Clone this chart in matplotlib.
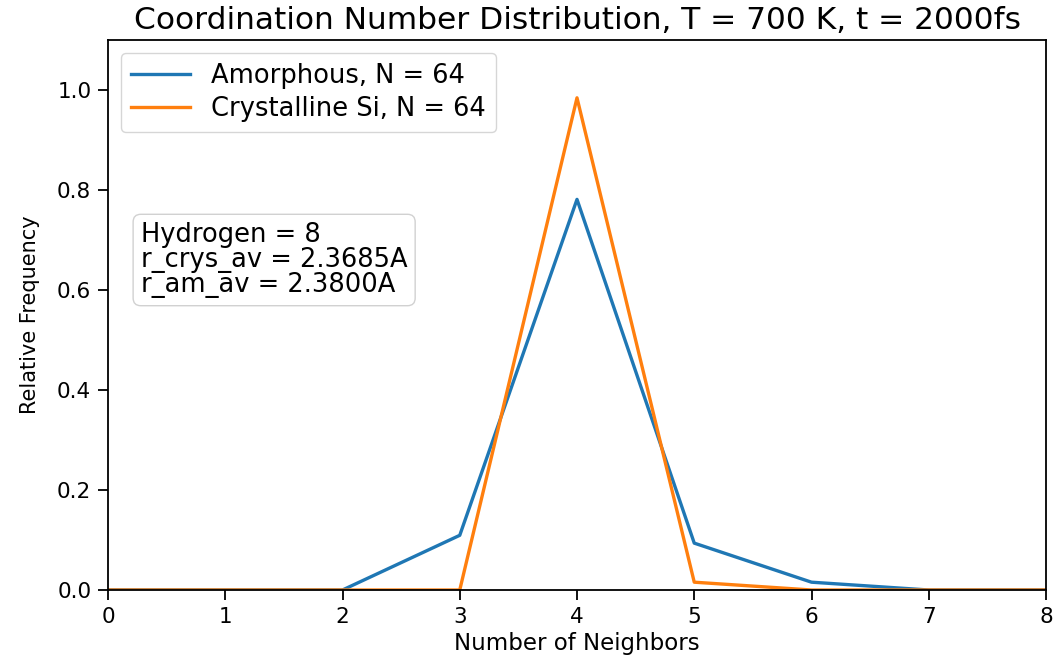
import matplotlib
matplotlib.use("Agg")
import matplotlib.pyplot as plt

neighbors = [0, 1, 2, 3, 4, 5, 6, 7, 8]
amorphous = [0, 0, 0, 7/64, 50/64, 6/64, 1/64, 0, 0]
crystalline = [0, 0, 0, 0, 63/64, 1/64, 0, 0, 0]
xticks = [0, 1, 2, 3, 4, 5, 6, 7, 8]
yticks = [0.0, 0.2, 0.4, 0.6, 0.8, 1.0]

fig = plt.figure(figsize=(10.58, 6.57), dpi=100)
ax = fig.add_axes([108/1058, 1 - 590/657, (1046-108)/1058, 550/657])
ax.plot(neighbors, amorphous, color='#1f77b4', lw=2.4, label='Amorphous, N = 64')
ax.plot(neighbors, crystalline, color='#ff7f0e', lw=2.4, label='Crystalline Si, N = 64')
ax.set_xlim(0, 8)
ax.set_ylim(0, 1.1)
ax.set_xticks(xticks)
ax.set_yticks(yticks)
ax.tick_params(labelsize=15.5, length=7, width=1.3, pad=5)
for s in ax.spines.values():
    s.set_linewidth(1.3)
ax.set_xlabel('Number of Neighbors', fontsize=16.5, labelpad=4)
ax.set_ylabel('Relative Frequency', fontsize=15, labelpad=12)
ax.set_title('Coordination Number Distribution, T = 700 K, t = 2000fs', fontsize=22.5, pad=8)
leg = ax.legend(loc='upper left', prop={'size': 18.5}, handlelength=2.3, labelspacing=0.25,
                borderaxespad=0.5)
ax.text(0.035, 0.6, 'Hydrogen = 8\nr_crys_av = 2.3685A\nr_am_av = 2.3800A', transform=ax.transAxes,
        fontsize=18.5, va='center', ha='left', linespacing=0.95,
        bbox=dict(boxstyle='round,pad=0.3', facecolor='white', edgecolor='#cccccc', alpha=0.9))
fig.savefig('out.png', dpi=100)
